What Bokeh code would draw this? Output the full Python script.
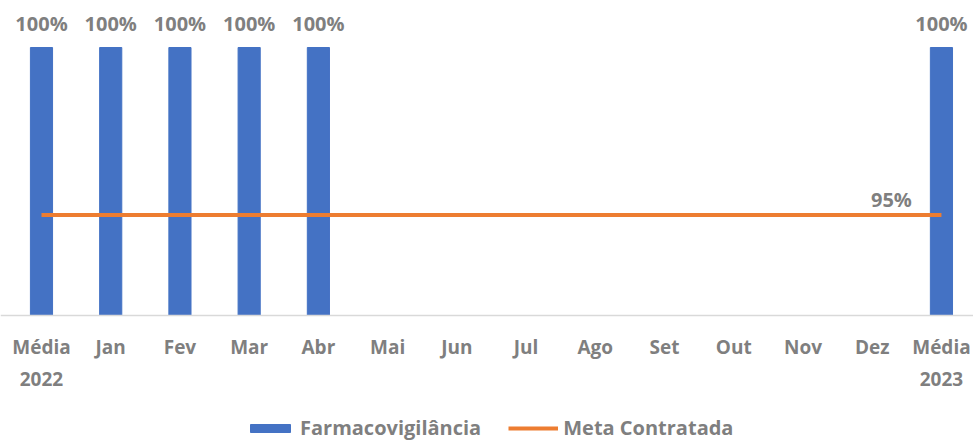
from bokeh.plotting import figure
from bokeh.models import Range1d, Legend, LegendItem, FixedTicker, ColumnDataSource
from bokeh.core.properties import value
from bokeh.embed import file_html
from bokeh.resources import INLINE

categories = ["Média\n2022", "Jan", "Fev", "Mar", "Abr", "Mai", "Jun", "Jul",
              "Ago", "Set", "Out", "Nov", "Dez", "Média\n2023"]
farmacovigilancia = [100, 100, 100, 100, 100, None, None, None, None, None, None, None, None, 100]
meta_contratada = [95, 95, 95, 95, 95, 95, 95, 95, 95, 95, 95, 95, 95, 95]
axis_base = 92

FONT = "Open Sans"
GREY = "#7f7f7f"
BLUE = "#4472C4"
ORANGE = "#ED7D31"

idx = list(range(len(categories)))
bar_x = [i for i, v in zip(idx, farmacovigilancia) if v is not None]
bar_y = [v for v in farmacovigilancia if v is not None]
bar_src = ColumnDataSource(dict(x=bar_x, top=bar_y, lbl=[f"{v}%" for v in bar_y]))
line_src = ColumnDataSource(dict(x=idx, y=meta_contratada))
last_src = ColumnDataSource(dict(x=[idx[-1]], y=[meta_contratada[-1]],
                                 lbl=[f"{meta_contratada[-1]}%"]))

p = figure(frame_width=973, frame_height=441, output_backend="svg", toolbar_location=None,
           x_range=Range1d(-0.592, 13.463), y_range=Range1d(88.239, 101.403),
           min_border_left=0, min_border_right=0, min_border_top=0, min_border_bottom=0)

bars = p.vbar(x="x", top="top", bottom=axis_base, width=0.32, source=bar_src,
              fill_color=BLUE, line_color=BLUE)
ln = p.line(x="x", y="y", source=line_src, line_color=ORANGE, line_width=4)

p.text(x="x", y="top", text="lbl", source=bar_src, text_align="center",
       text_baseline="alphabetic", y_offset=-24, text_color=GREY,
       text_font=value(FONT), text_font_style="bold", text_font_size="20px")
p.text(x="x", y="y", text="lbl", source=last_src, text_align="center",
       text_baseline="alphabetic", x_offset=-50, y_offset=-16, text_color=GREY,
       text_font=value(FONT), text_font_style="bold", text_font_size="20px")

p.yaxis.visible = False
p.xgrid.visible = False
p.ygrid.visible = False
p.outline_line_color = None

ax = p.xaxis[0]
ax.fixed_location = axis_base
ax.ticker = FixedTicker(ticks=idx)
ax.major_label_overrides = {i: c for i, c in zip(idx, categories)}
ax.axis_line_color = "#d9d9d9"
ax.axis_line_width = 1.5
ax.major_tick_line_color = None
ax.minor_tick_line_color = None
ax.major_label_standoff = 12
ax.major_label_text_font = FONT
ax.major_label_text_font_style = "bold"
ax.major_label_text_font_size = "19px"
ax.major_label_text_color = GREY
ax.major_label_text_line_height = 1.25

legend = Legend(items=[LegendItem(label="Farmacovigilância", renderers=[bars]),
                       LegendItem(label="Meta Contratada", renderers=[ln])],
                orientation="horizontal", location=(245, 0),
                label_text_font=FONT, label_text_font_style="bold",
                label_text_font_size="20px", label_text_color=GREY,
                glyph_width=50, glyph_height=10, label_standoff=5, spacing=27,
                border_line_color=None, background_fill_alpha=0,
                padding=0, margin=0)
p.add_layout(legend)

open("out.html", "w").write(file_html(p, INLINE))
